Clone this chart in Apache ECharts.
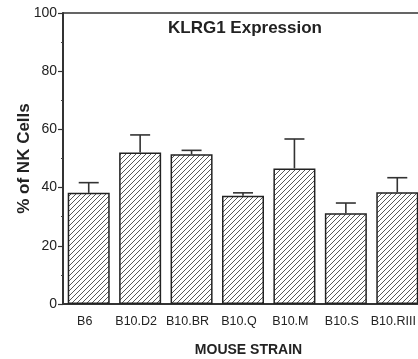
<!DOCTYPE html>
<html><head><meta charset="utf-8">
<script src="https://cdn.jsdelivr.net/npm/echarts@6/dist/echarts.min.js"></script>
<style>html,body{margin:0;padding:0;background:#fff}#c{width:418px;height:359px}</style>
</head><body><div id="c"></div>
<script>
const categories = ['B6','B10.D2','B10.BR','B10.Q','B10.M','B10.S','B10.RIII'];
const means = [38.2, 52.1, 51.5, 37.2, 46.6, 31.2, 38.4];
const errTops = [41.7, 58.1, 52.8, 38.2, 56.7, 34.7, 43.4];
const yTicks = [0, 20, 40, 60, 80, 100];

const pc = document.createElement('canvas');
pc.width = 5; pc.height = 5;
const g = pc.getContext('2d');
g.fillStyle = '#fff'; g.fillRect(0,0,5,5);
g.strokeStyle = '#444'; g.lineWidth = 0.9;
g.beginPath();
g.moveTo(-1,6); g.lineTo(6,-1);
g.moveTo(-1,1); g.lineTo(1,-1);
g.moveTo(4,6); g.lineTo(6,4);
g.stroke();

const chart = echarts.init(document.getElementById('c'));
const font = 'Liberation Sans, Arial, sans-serif';
chart.setOption({
  animation: false,
  title: {text: 'KLRG1 Expression', left: 168, top: 20, padding: 0,
    textStyle: {fontFamily: font, fontSize: 17, fontWeight: 'bold', color: '#222'}},
  grid: {left: 63, top: 13, bottom: 55, right: -5, containLabel: false, outerBoundsMode: 'none'},
  xAxis: [{
    type: 'category', data: categories, position: 'bottom',
    name: 'MOUSE STRAIN', nameLocation: 'middle', nameGap: 39, nameMoveOverlap: false,
    nameTextStyle: {fontFamily: font, fontSize: 14, fontWeight: 'bold', color: '#222', padding: [0,0,0,11]},
    axisLine: {lineStyle: {color: '#333', width: 2}},
    axisTick: {alignWithLabel: true, length: 5, lineStyle: {color: '#444', width: 1.2}},
    axisLabel: {fontFamily: font, fontSize: 12.5, color: '#222', margin: 11, interval: 0, hideOverlap: false,
      padding: [0,8,0,0]}
  }, {
    type: 'category', data: categories, position: 'bottom',
    axisLine: {show: false}, axisLabel: {show: false},
    axisTick: {length: 2, lineStyle: {color: '#555', width: 1}}
  }, {
    type: 'category', data: categories, position: 'top',
    axisLine: {lineStyle: {color: '#333', width: 1.5}},
    axisTick: {show: false}, axisLabel: {show: false}
  }],
  yAxis: {
    type: 'value', min: 0, max: 100, interval: 20,
    name: '% of NK Cells', nameLocation: 'middle', nameGap: 30, nameMoveOverlap: false,
    nameTextStyle: {fontFamily: font, fontSize: 17, fontWeight: 'bold', color: '#222'},
    axisLine: {show: true, lineStyle: {color: '#333', width: 2}},
    axisTick: {show: true, length: 5, lineStyle: {color: '#333', width: 1.2}},
    minorTick: {show: true, splitNumber: 2, length: 2, lineStyle: {color: '#444'}},
    splitLine: {show: false},
    axisLabel: {fontFamily: font, fontSize: 14, color: '#222', margin: 6,
      formatter: v => yTicks.includes(v) ? String(v) : ''}
  },
  series: [{
    type: 'bar', data: means, barWidth: 42,
    itemStyle: {color: {image: pc, repeat: 'repeat'}, borderColor: '#222', borderWidth: 1.5}
  }, {
    type: 'custom', z: 5,
    data: categories.map((c, i) => [i, means[i], errTops[i]]),
    renderItem: function (params, api) {
      const x = api.value(0);
      const p1 = api.coord([x, api.value(1)]);
      const p2 = api.coord([x, api.value(2)]);
      const st = {stroke: '#333', lineWidth: 1.6};
      return {type: 'group', children: [
        {type: 'line', shape: {x1: p1[0], y1: p1[1], x2: p2[0], y2: p2[1]}, style: st},
        {type: 'line', shape: {x1: p2[0]-10, y1: p2[1], x2: p2[0]+10, y2: p2[1]}, style: st}
      ]};
    }
  }]
});
</script></body></html>
